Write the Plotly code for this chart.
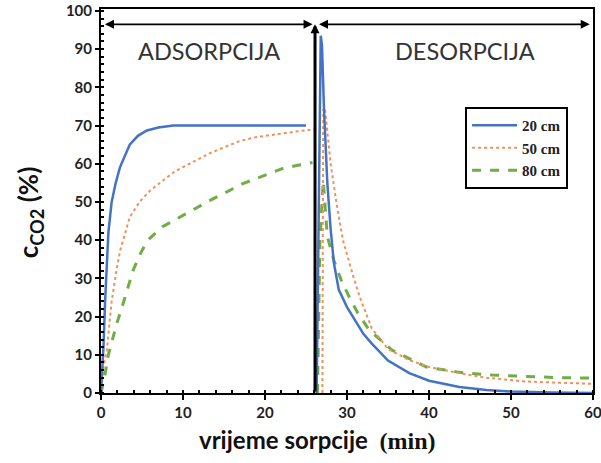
import plotly.graph_objects as go

# ---- data ----
t_ads_20 = [0, 0.3, 0.5, 0.9, 1.3, 1.8, 2.3, 3.0, 3.5, 4.5, 5.6, 7.0, 8.8, 12, 16, 20, 25]
c_ads_20 = [0, 12, 24, 42, 50, 55, 59, 62.5, 65, 67.3, 68.7, 69.5, 70, 70, 70, 70, 70]
t_des_20 = [26.3, 26.6, 26.8, 26.95, 27.2, 27.6, 28.0, 28.4, 29, 30, 31, 32, 33, 35, 37.6, 40, 43.7, 47, 50, 55, 60]
c_des_20 = [0, 60, 93.5, 91, 74, 55, 43, 34, 27, 22.5, 19, 15.5, 13, 8.5, 5.2, 3.2, 1.6, 0.8, 0.4, 0.1, 0]

t_ads_50 = [0, 0.3, 0.7, 1.3, 1.8, 2.3, 3.5, 4.7, 6, 7.5, 9, 10.8, 12, 13.3, 15, 17, 19, 21.8, 24, 26]
c_ads_50 = [0, 7, 11, 24, 31, 37, 46, 50, 53, 55.6, 58, 60, 61.3, 62.8, 64.3, 66, 67, 67.9, 68.5, 69]
t_des_50 = [27.0, 27.1, 27.3, 28, 28.7, 29.5, 30.7, 31.5, 33, 35, 37.6, 40, 43.7, 47, 51.8, 56, 60]
c_des_50 = [0, 74, 74.7, 60, 50, 40, 31, 25.5, 17, 11.5, 8.6, 6.8, 5.2, 4.0, 3.0, 2.6, 2.4]

t_ads_80 = [0, 0.2, 0.5, 0.9, 1.4, 1.9, 2.5, 3.2, 3.9, 4.8, 5.7, 7.5, 10.5, 13.3, 17.3, 20, 22.1, 24, 25.8]
c_ads_80 = [0, 2, 5, 10, 14, 18, 22, 27, 32, 36.5, 40, 43.5, 47, 50.4, 54.8, 57, 58.7, 59.6, 60.3]
t_des_80 = [26.4, 26.7, 27.1, 27.6, 28.4, 29.3, 30.3, 31.3, 32.7, 35.5, 39.7, 43.7, 47.7, 52, 56, 60]
c_des_80 = [0, 40, 55.5, 41, 34.7, 29.5, 25, 21, 16.5, 11.2, 6.8, 5.4, 4.7, 4.3, 4.0, 3.9]

series_names = ["20 cm", "50 cm", "80 cm"]
x_ticks = [0, 10, 20, 30, 40, 50, 60]
y_ticks = [0, 10, 20, 30, 40, 50, 60, 70, 80, 90, 100]
t_switch = 26.1

def join(ta, ca, td, cd):
    return ta + [None] + td, ca + [None] + cd

fig = go.Figure()

styles = {
    "20 cm": dict(color="#4472C4", width=2.5, dash="solid"),
    "50 cm": dict(color="#F0915A", width=2, dash="dot"),
    "80 cm": dict(color="#70AD47", width=3, dash="dash"),
}
data = {
    "20 cm": join(t_ads_20, c_ads_20, t_des_20, c_des_20),
    "50 cm": join(t_ads_50, c_ads_50, t_des_50, c_des_50),
    "80 cm": join(t_ads_80, c_ads_80, t_des_80, c_des_80),
}
# draw green and orange below blue, legend order kept via legendrank
for rank, name in [(3, "80 cm"), (2, "50 cm"), (1, "20 cm")]:
    x, y = data[name]
    fig.add_trace(go.Scatter(
        x=x, y=y, mode="lines", name=name, line=styles[name],
        connectgaps=False, legendrank=rank,
    ))

tickfont = dict(family="Lato", size=15, color="#222", weight="bold")

fig.update_layout(
    width=601, height=463,
    margin=dict(l=101, r=8, t=9, b=70),
    paper_bgcolor="white", plot_bgcolor="white",
    template=None,
    showlegend=True,
    legend=dict(
        x=0.74, y=0.745, xanchor="left", yanchor="top",
        bgcolor="white", bordercolor="black", borderwidth=2,
        font=dict(family="Liberation Serif", size=15, color="#222", weight="bold"),
        itemwidth=45, tracegroupgap=0,
    ),
    xaxis=dict(
        range=[0, 60], tickvals=x_ticks, showgrid=False, zeroline=False,
        showline=True, linecolor="black", linewidth=2, mirror=True,
        ticks="outside", ticklen=5, tickwidth=2, tickcolor="black",
        minor=dict(dtick=2, ticks="inside", ticklen=3, tickwidth=2, tickcolor="black"),
        tickfont=tickfont, automargin=False, ticklabeloverflow="allow",
    ),
    yaxis=dict(
        range=[0, 100.5], tickvals=y_ticks, showgrid=False, zeroline=False,
        showline=True, linecolor="black", linewidth=2, mirror=True,
        ticks="outside", ticklen=4, tickwidth=2, tickcolor="black",
        minor=dict(dtick=2, ticks="inside", ticklen=3, tickwidth=2, tickcolor="black"),
        tickfont=tickfont, automargin=False, ticklabeloverflow="allow",
    ),
)

ann = []
# axis titles
ann.append(dict(
    xref="paper", yref="paper", x=-0.145, y=0.47, xanchor="center", yanchor="middle",
    textangle=-90, showarrow=False,
    text="c<sub>CO2</sub> (%)",
    font=dict(family="Lato", size=26, color="#111", weight="bold"),
))
ann.append(dict(
    xref="paper", yref="paper", x=0.44, y=-0.122, xanchor="center", yanchor="middle",
    showarrow=False,
    text="vrijeme sorpcije  <span style=\"font-family:'Liberation Serif'\">(min)</span>",
    font=dict(family="Lato", size=24, color="#111", weight="bold"),
))
# region labels
ann.append(dict(xref="x", yref="y", x=13.2, y=89.5, showarrow=False, text="ADSORPCIJA",
                font=dict(family="Lato", size=23.5, color="#333")))
ann.append(dict(xref="x", yref="y", x=44.4, y=89.5, showarrow=False, text="DESORPCIJA",
                font=dict(family="Lato", size=23.5, color="#333")))
# arrows
arrow_y = 96.5
ann.append(dict(xref="x", yref="y", axref="x", ayref="y", x=t_switch - 0.3, y=arrow_y,
                ax=0.3, ay=arrow_y, text="", showarrow=True, arrowside="end+start",
                arrowhead=2, startarrowhead=2, arrowsize=1, startarrowsize=1,
                arrowwidth=1.8, arrowcolor="black"))
ann.append(dict(xref="x", yref="y", axref="x", ayref="y", x=59.6, y=arrow_y,
                ax=t_switch + 0.3, ay=arrow_y, text="", showarrow=True, arrowside="end+start",
                arrowhead=2, startarrowhead=2, arrowsize=1, startarrowsize=1,
                arrowwidth=1.8, arrowcolor="black"))
ann.append(dict(xref="x", yref="y", axref="x", ayref="y", x=t_switch, y=arrow_y,
                ax=t_switch, ay=0, text="", showarrow=True,
                arrowhead=2, arrowsize=0.6, arrowwidth=3, arrowcolor="black"))
fig.update_layout(annotations=ann)

fig.write_html("out.html", config={"displayModeBar": False},
               post_script="document.body.style.margin='0';")
